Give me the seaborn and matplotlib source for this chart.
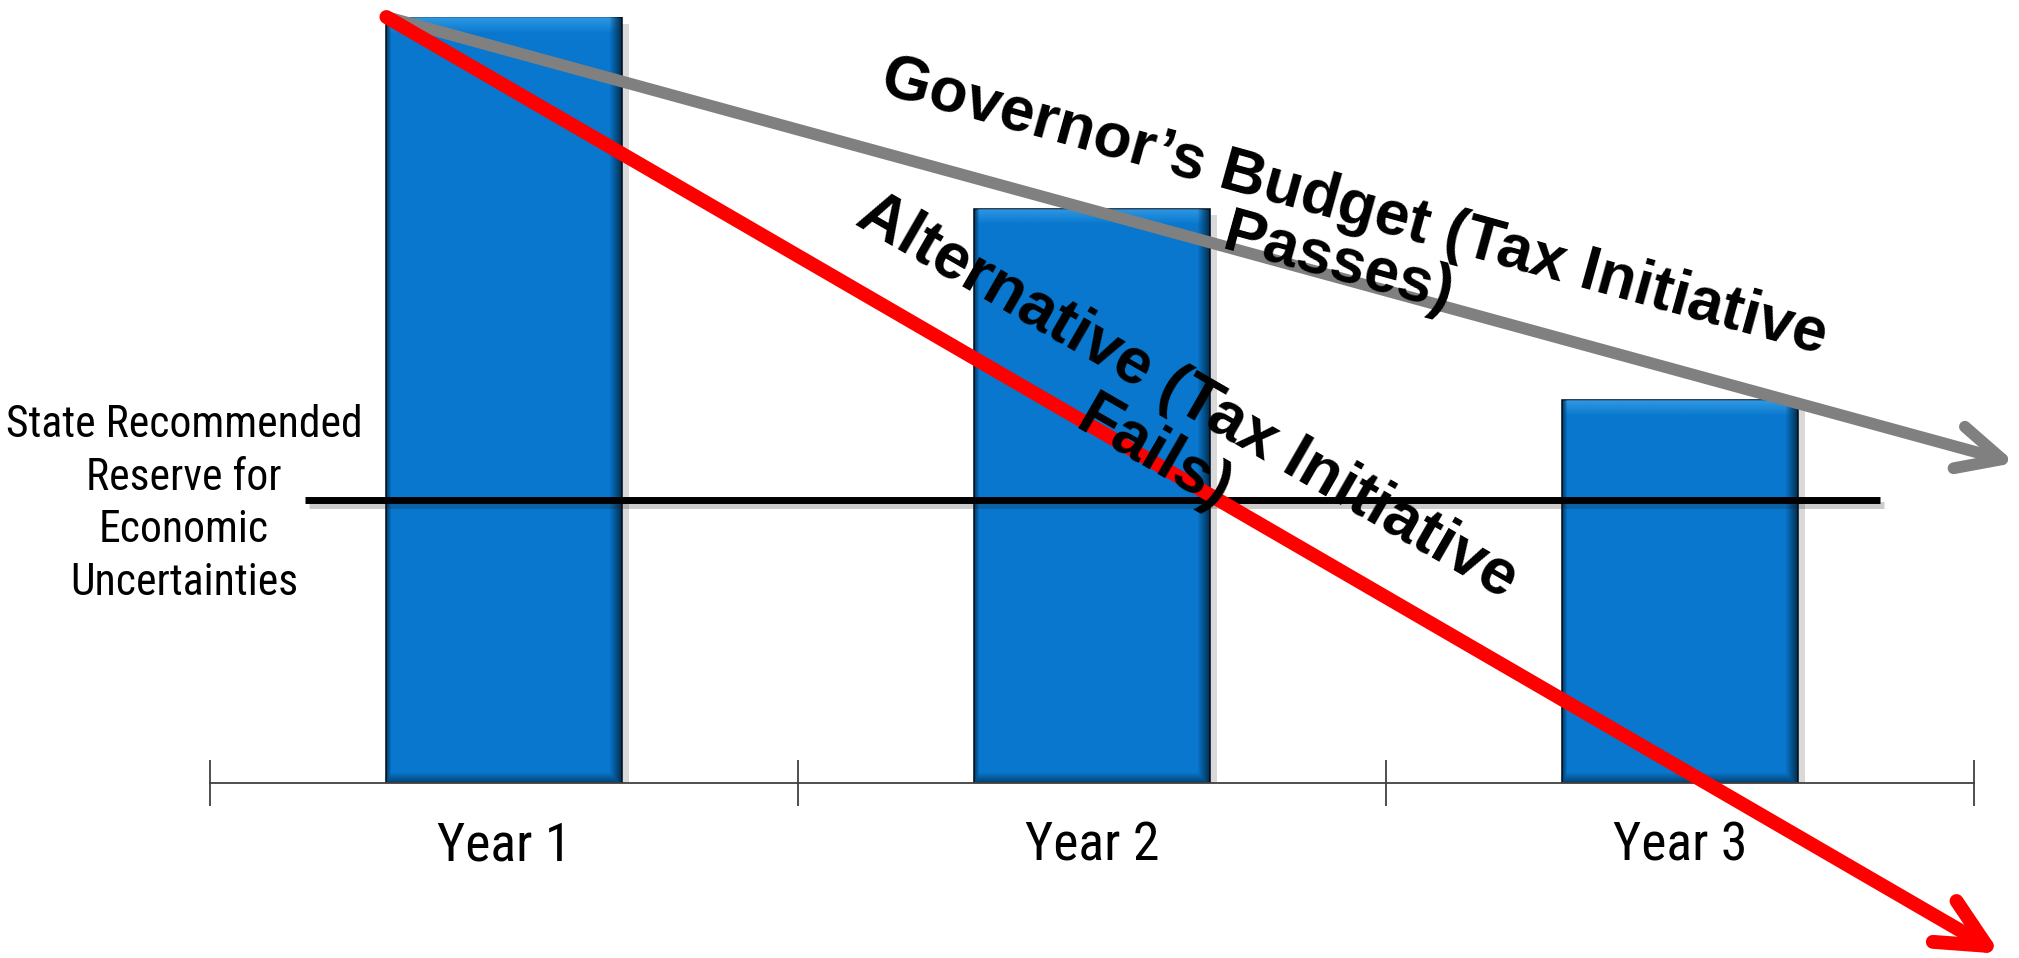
import numpy as np
import pandas as pd
import matplotlib
matplotlib.use("Agg")
import matplotlib.pyplot as plt
import matplotlib.patheffects as pe
import matplotlib.transforms as mtransforms
from matplotlib import font_manager as fm
import seaborn as sns

# ---- data -----------------------------------------------------------------
years = ["Year 1", "Year 2", "Year 3"]
reserve_balance = [100, 75, 50]
recommended_reserve = 37
# where each trend arrow ends (category position, balance)
governor_trend_end = [2.57, 41.8]
alternative_trend_end = [2.545, -22.3]

reserve_label = "State Recommended\nReserve for\nEconomic\nUncertainties"
governor_label = "Governor\u2019s Budget (Tax Initiative\nPasses)"
alternative_label = "Alternative (Tax Initiative\nFails)"

# ---- style ----------------------------------------------------------------
sns.set_theme(style="white")
plt.rcParams["font.family"] = ["Liberation Sans", "DejaVu Sans"]
plt.rcParams["text.color"] = "black"
BOLD = ["Liberation Sans", "DejaVu Sans"]


def narrow_font():
    """Pick a condensed sans-serif face if one is installed."""
    entries = [f for f in fm.fontManager.ttflist
               if f.style == "normal" and f.weight in (400, "normal", "regular")]
    for wanted in ["Liberation Sans Narrow", "Arial Narrow", "Roboto Condensed",
                   "Noto Sans Condensed", "Open Sans Condensed",
                   "DejaVu Sans Condensed"]:
        for f in entries:
            if f.name == wanted:
                return fm.FontProperties(fname=f.fname)
    for key in ("narrow", "condensed"):
        for f in entries:
            low = f.fname.lower()
            if key in low and "semi" not in low and "extra" not in low and "bold" not in low \
                    and "light" not in low and "italic" not in low and "mono" not in low \
                    and "serif" not in low:
                return fm.FontProperties(fname=f.fname)
    return fm.FontProperties(family="Liberation Sans")


NARROW = narrow_font()

BAR_BLUE = "#0877CD"
AXIS_GREY = "#404040"

W, H, DPI = 2019, 958, 100
fig = plt.figure(figsize=(W / DPI, H / DPI), dpi=DPI)
fig.patch.set_facecolor("white")
ax = fig.add_axes([210 / W, 1 - 783 / H, (1974 - 210) / W, (783 - 17) / H])

df = pd.DataFrame({"year": years, "balance": reserve_balance})
bar_width = 0.4
sns.barplot(data=df, x="year", y="balance", color=BAR_BLUE, saturation=1,
            width=bar_width, edgecolor="#0a1c30", linewidth=1.2, ax=ax,
            zorder=2)

for bar in ax.patches:
    bar.set_path_effects([
        pe.SimplePatchShadow(offset=(5, -5), shadow_rgbFace="black", alpha=0.15),
        pe.Normal(),
    ])

ax.set_xlim(-0.5, 2.5)
ax.set_ylim(0, 100)

# bevelled look on each bar: light top edge, darker sides and bottom
fig.canvas.draw()
for bar in list(ax.patches):
    bb = bar.get_window_extent()
    w, h = max(int(bb.width), 2), max(int(bb.height), 2)
    yy = np.arange(h)[:, None].astype(float)
    xx = np.arange(w)[None, :].astype(float)
    top = np.clip(1 - yy / 16.0, 0, 1) * np.ones_like(xx)
    right = np.clip(1 - (w - 1 - xx) / 12.0, 0, 1) * np.ones_like(yy)
    left = np.clip(1 - xx / 5.0, 0, 1) * np.ones_like(yy)
    bottom = np.clip(1 - (h - 1 - yy) / 10.0, 0, 1) * np.ones_like(xx)
    dark = np.maximum.reduce([right * 0.6, left * 0.5, bottom * 0.45])
    light = top * 0.55 * (1 - np.maximum(right, left))
    x0, y0 = bar.get_x(), bar.get_y()
    ext = [x0, x0 + bar.get_width(), y0, y0 + bar.get_height()]
    light_img = np.zeros((h, w, 4))
    light_img[..., :3] = matplotlib.colors.to_rgb("#4FB4F7")
    light_img[..., 3] = light
    dark_img = np.zeros((h, w, 4))
    dark_img[..., 3] = dark
    for img in (light_img, dark_img):
        im = ax.imshow(img, extent=ext, aspect="auto", origin="upper",
                       interpolation="bilinear", zorder=2.5)
        im.set_clip_path(bar)

ax.set_xlim(-0.5, 2.5)
ax.set_ylim(0, 100)

# recommended reserve level
ax.hlines(recommended_reserve, -0.338, 2.340, color="black", lw=5, zorder=3,
          path_effects=[pe.SimpleLineShadow(offset=(3, -4), alpha=0.22),
                        pe.Normal()])
reserve_text = ax.text(
    184 / W, recommended_reserve - 0.6, reserve_label,
    transform=mtransforms.blended_transform_factory(fig.transFigure, ax.transData),
    ha="center", va="center", linespacing=1.32, color="black",
    fontproperties=NARROW)
reserve_text.set_fontsize(30)

# trend arrows from the top of the first bar
start = (-bar_width / 2, reserve_balance[0])
ax.annotate("", xy=tuple(governor_trend_end), xytext=start, annotation_clip=False,
            arrowprops=dict(arrowstyle="->,head_length=3.2,head_width=1.55",
                            mutation_scale=10, lw=8.5, color="#808080",
                            shrinkA=0, shrinkB=0, capstyle="round",
                            joinstyle="round"), zorder=4)
ax.annotate("", xy=tuple(alternative_trend_end), xytext=start, annotation_clip=False,
            arrowprops=dict(arrowstyle="->,head_length=3.5,head_width=1.7",
                            mutation_scale=10, lw=10, color="#FF0000",
                            shrinkA=0, shrinkB=0, capstyle="round",
                            joinstyle="round"), zorder=5)

ax.text(1.432, 71.5, governor_label, rotation=-15.5, rotation_mode="anchor",
        ha="center", va="center", multialignment="center", fontsize=45,
        fontweight="bold", family=BOLD, linespacing=1.0, color="black", zorder=6)
ax.text(1.134, 46.6, alternative_label, rotation=-30, rotation_mode="anchor",
        ha="center", va="center", multialignment="center", fontsize=46,
        fontweight="bold", family=BOLD, linespacing=1.15, color="black", zorder=6)

# axis: boundary ticks between categories, labels centred under bars
for side in ("top", "left", "right"):
    ax.spines[side].set_visible(False)
ax.spines["bottom"].set_color(AXIS_GREY)
ax.spines["bottom"].set_linewidth(1.3)
ax.set_yticks([])
ax.set_xticks([-0.5, 0.5, 1.5, 2.5], labels=[])
ax.set_xticks([0, 1, 2], labels=years, minor=True)
ax.tick_params(axis="x", which="major", direction="inout", length=33,
               width=1.3, color=AXIS_GREY, bottom=True)
ax.tick_params(axis="x", which="minor", length=0, pad=27,
               labelcolor="black", bottom=True)
for lbl in ax.get_xticklabels(minor=True):
    lbl.set_fontproperties(NARROW)
    lbl.set_fontsize(38)
ax.set_xlabel("")
ax.set_ylabel("")
ax.set_facecolor("none")

# size the condensed labels to their printed widths
fig.canvas.draw()
renderer = fig.canvas.get_renderer()
first_line = reserve_label.split("\n")[0]
probe = fig.text(0, 0, first_line, fontproperties=NARROW)
probe.set_fontsize(30)
pw = probe.get_window_extent(renderer).width
probe.remove()
reserve_text.set_fontsize(30 * 356.0 / pw)

tick_lbls = ax.get_xticklabels(minor=True)
tw = tick_lbls[0].get_window_extent(renderer).width
for lbl in tick_lbls:
    lbl.set_fontsize(38 * 134.0 / tw)

fig.savefig("out.png", dpi=DPI, facecolor="white")
